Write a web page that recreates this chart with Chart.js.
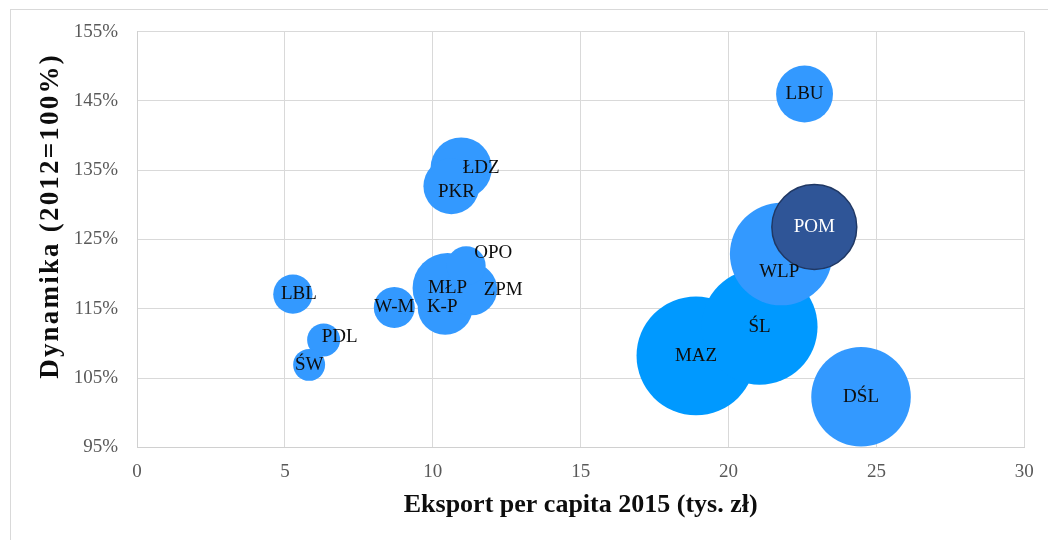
<!DOCTYPE html>
<html><head><meta charset="utf-8">
<script src="https://cdn.jsdelivr.net/npm/chart.js@4.4.1/dist/chart.umd.min.js"></script>
<style>html,body{margin:0;padding:0;background:#fff}#wrap{width:1048px;height:540px;position:relative}</style>
</head><body><div id="wrap"><canvas id="c" width="1048" height="540"></canvas></div>
<script>
// ---- data ----
const regions         = ['LBL','PDL','ŚW','W-M','MŁP','K-P','ZPM','OPO','ŁDZ','PKR','LBU','DŚL','MAZ','ŚL','WLP','POM'];
const exportPerCapita = [5.27, 6.31, 5.82, 8.70, 10.50, 10.42, 11.30, 11.13, 10.96, 10.63, 22.57, 24.48, 18.90, 21.05, 21.78, 22.90];
const dynamics        = [117.1, 110.5, 106.9, 115.2, 118.0, 115.2, 117.8, 121.2, 135.3, 132.7, 146.0, 102.3, 108.2, 112.4, 122.9, 126.8];
const exportTotal     = [11.2, 7.9, 7.4, 12.2, 35.5, 21.9, 19.6, 11.0, 27.3, 22.7, 23.5, 71.9, 102.6, 97.5, 76.3, 52.3];
const xTicks = [0, 5, 10, 15, 20, 25, 30];
const yTicks = [95, 105, 115, 125, 135, 145, 155];
const xTitle = 'Eksport per capita 2015 (tys. zł)';
const yTitle = 'Dynamika (2012=100%)';

// ---- styles ----
const SERIF = "'Liberation Serif', 'Times New Roman', serif";
const BUBBLE_SCALE = 5.87; // px radius per sqrt(size unit)
const colorFor = name => name === 'POM' ? '#2F5597' : (name === 'MAZ' || name === 'ŚL') ? '#0099FF' : '#3399FF';
const labelShift = { 'LBL':[6,0], 'PDL':[16,-3], 'ZPM':[32,1], 'OPO':[27,-13], 'ŁDZ':[20,0], 'PKR':[5,6], 'WLP':[-2,18], 'K-P':[-3,0] };
const AREA = { left: 137, top: 31.7, right: 1024.3, bottom: 447.3 };

const points = regions.map((n, i) => ({ x: exportPerCapita[i], y: dynamics[i], r: BUBBLE_SCALE * Math.sqrt(exportTotal[i]) }));

const framePlugin = {
  id: 'frame',
  beforeDraw(chart) {
    const ctx = chart.ctx;
    ctx.save();
    ctx.fillStyle = '#fff';
    ctx.fillRect(0, 0, chart.width, chart.height);
    ctx.strokeStyle = '#D9D9D9';
    ctx.lineWidth = 1;
    ctx.strokeRect(10.5, 9.5, 1200, 700);
    ctx.restore();
  }
};

const labelPlugin = {
  id: 'bubbleLabels',
  afterDatasetsDraw(chart) {
    const ctx = chart.ctx;
    const meta = chart.getDatasetMeta(0);
    ctx.save();
    ctx.font = '19px ' + SERIF;
    ctx.textAlign = 'center';
    ctx.textBaseline = 'middle';
    meta.data.forEach((el, i) => {
      const name = regions[i];
      const s = labelShift[name] || [0, 0];
      ctx.fillStyle = name === 'POM' ? '#FFFFFF' : '#0D0D0D';
      ctx.fillText(name, el.x + s[0], el.y + s[1]);
    });
    ctx.restore();
  }
};

const yTitlePlugin = {
  id: 'yTitle',
  afterDraw(chart) {
    const ctx = chart.ctx;
    ctx.save();
    ctx.translate(51, 216);
    ctx.rotate(-Math.PI / 2);
    ctx.font = 'bold 27px ' + SERIF;
    if ('letterSpacing' in ctx) ctx.letterSpacing = '2.2px';
    ctx.fillStyle = '#0D0D0D';
    ctx.textAlign = 'center';
    ctx.textBaseline = 'middle';
    ctx.fillText(yTitle, 0, 0);
    ctx.restore();
  }
};

const chart = new Chart(document.getElementById('c'), {
  type: 'bubble',
  data: {
    datasets: [{
      data: points,
      backgroundColor: regions.map(colorFor),
      borderColor: regions.map(n => n === 'POM' ? '#203864' : colorFor(n)),
      borderWidth: regions.map(n => n === 'POM' ? 1.5 : 0)
    }]
  },
  options: {
    responsive: false,
    animation: false,
    devicePixelRatio: 1,
    layout: { autoPadding: false, padding: { top: AREA.top, right: 1048 - AREA.right, bottom: 0, left: 0 } },
    plugins: { legend: { display: false }, tooltip: { enabled: false } },
    scales: {
      x: {
        type: 'linear', min: 0, max: 30,
        afterBuildTicks: s => { s.ticks = xTicks.map(v => ({ value: v })); },
        afterFit: s => { s.height = 540 - AREA.bottom; },
        grid: { color: '#D9D9D9', lineWidth: 1, drawTicks: false },
        border: { color: '#D0D0D0', width: 1 },
        ticks: { padding: 13, color: '#595959', font: { family: SERIF, size: 19 } },
        title: { display: true, text: xTitle, color: '#0D0D0D', padding: { top: 0, bottom: 19 }, font: { family: SERIF, size: 26, weight: 'bold' } }
      },
      y: {
        type: 'linear', min: 95, max: 155,
        afterBuildTicks: s => { s.ticks = yTicks.map(v => ({ value: v })); },
        afterFit: s => { s.width = AREA.left; },
        grid: { color: '#D9D9D9', lineWidth: 1, drawTicks: false },
        border: { color: '#D0D0D0', width: 1 },
        ticks: { padding: 19, color: '#595959', font: { family: SERIF, size: 19 }, callback: v => v + '%' }
      }
    }
  },
  plugins: [framePlugin, labelPlugin, yTitlePlugin]
});
</script>
</body></html>
